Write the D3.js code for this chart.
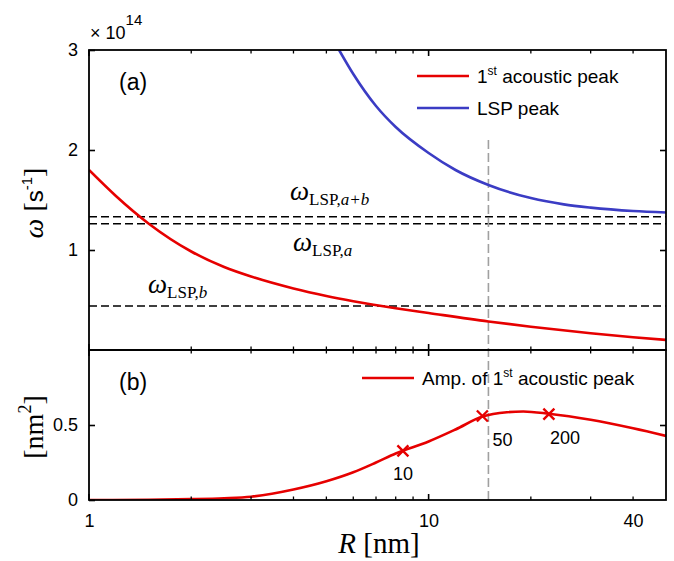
<!DOCTYPE html>
<html><head><meta charset="utf-8">
<script src="https://cdn.jsdelivr.net/npm/d3@7"></script>
<style>body{margin:0;background:#fff} svg{display:block}</style>
</head><body><svg id="c" width="674" height="561"></svg>
<script>
// ---- data ----
const acousticR     = [1, 1.2, 1.5, 2, 2.5, 3, 4, 5, 6, 8, 10, 15, 20, 30, 40, 50];
const acousticOmega = [1.80, 1.54, 1.263, 0.985, 0.83, 0.735, 0.615, 0.54, 0.488, 0.418, 0.37, 0.285, 0.233, 0.168, 0.128, 0.101];
const lspR          = [5.45, 6, 7, 8, 10, 12, 15, 20, 25, 30, 40, 50];
const lspOmega      = [3.0, 2.76, 2.44, 2.23, 1.97, 1.80, 1.65, 1.519, 1.456, 1.424, 1.39, 1.375];
const ampR          = [1, 1.5, 2, 2.5, 3, 4, 5, 6, 7, 8, 10, 12, 14.4, 17, 19, 22.6, 30, 40, 50];
const ampValue      = [0, 0.002, 0.006, 0.012, 0.022, 0.07, 0.125, 0.185, 0.25, 0.31, 0.39, 0.47, 0.556, 0.585, 0.59, 0.575, 0.535, 0.478, 0.427];
const markerR       = [8.4, 14.4, 22.6];
const markerValue   = [0.327, 0.56, 0.573];
const markerLabels  = ["10", "50", "200"];
const lspLevels     = [1.333, 1.263, 0.44];   // a+b, a, b
const guideR        = 15;
const xTickValues   = [1, 10, 40];
const xMajor        = [1, 10];
const xMinor        = [2, 3, 4, 5, 6, 7, 8, 9, 20, 30, 40];
const yTopTicks     = [1, 2, 3];
const yBotTicks     = [0, 0.5];

// ---- layout ----
const L = 89, Rr = 666, T = 50, M = 350, B = 500;
const svg = d3.select("#c");
const x  = d3.scaleLog().domain([1, 50]).range([L, Rr]);
const yA = d3.scaleLinear().domain([0, 3]).range([M, T]);
const yB = d3.scaleLinear().domain([0, 1]).range([B, M]);
const sans = "'Liberation Sans', Arial, sans-serif";
const serif = "'Liberation Serif', 'Times New Roman', serif";
const RED = "#e60000", BLUE = "#3b3cc4";

const defs = svg.append("defs");
defs.append("clipPath").attr("id", "clipA").append("rect").attr("x", L).attr("y", T).attr("width", Rr - L).attr("height", M - T);
defs.append("clipPath").attr("id", "clipB").append("rect").attr("x", L).attr("y", M).attr("width", Rr - L).attr("height", B - M);

// ---- panel (a) ----
const gA = svg.append("g").attr("clip-path", "url(#clipA)");
gA.selectAll("line.lvl").data(lspLevels).join("line")
  .attr("x1", L).attr("x2", Rr).attr("y1", d => yA(d)).attr("y2", d => yA(d))
  .attr("stroke", "#000").attr("stroke-width", 1.6).attr("stroke-dasharray", "8,4");
gA.append("line").attr("x1", x(guideR)).attr("x2", x(guideR)).attr("y1", 140).attr("y2", M)
  .attr("stroke", "#a0a0a0").attr("stroke-width", 1.6).attr("stroke-dasharray", "9,4");
const lineA = d3.line().x(d => x(d[0])).y(d => yA(d[1])).curve(d3.curveMonotoneX);
gA.append("path").datum(acousticR.map((r, i) => [r, acousticOmega[i]]))
  .attr("d", lineA).attr("fill", "none").attr("stroke", RED).attr("stroke-width", 2.6);
gA.append("path").datum(lspR.map((r, i) => [r, lspOmega[i]]))
  .attr("d", lineA).attr("fill", "none").attr("stroke", BLUE).attr("stroke-width", 2.6);

// ---- panel (b) ----
const gB = svg.append("g").attr("clip-path", "url(#clipB)");
gB.append("line").attr("x1", x(guideR)).attr("x2", x(guideR)).attr("y1", M).attr("y2", B)
  .attr("stroke", "#a0a0a0").attr("stroke-width", 1.6).attr("stroke-dasharray", "9,4").attr("stroke-dashoffset", 2);
const lineB = d3.line().x(d => x(d[0])).y(d => yB(d[1])).curve(d3.curveMonotoneX);
gB.append("path").datum(ampR.map((r, i) => [r, ampValue[i]]))
  .attr("d", lineB).attr("fill", "none").attr("stroke", RED).attr("stroke-width", 2.6);
const mk = svg.append("g");
markerR.forEach((r, i) => {
  const cx = x(r), cy = yB(markerValue[i]), s = 5.5;
  mk.append("path").attr("d", `M${cx - s},${cy - s}L${cx + s},${cy + s}M${cx - s},${cy + s}L${cx + s},${cy - s}`)
    .attr("stroke", RED).attr("stroke-width", 2.4).attr("fill", "none");
});
const mlPos = [[0, 29, "middle"], [10, 30, "start"], [1, 30, "start"]];
markerLabels.forEach((t, i) => {
  svg.append("text").attr("x", x(markerR[i]) + mlPos[i][0]).attr("y", yB(markerValue[i]) + mlPos[i][1])
    .attr("text-anchor", mlPos[i][2]).attr("font-family", sans).attr("font-size", 18).text(t);
});

// ---- axes ----
function xAxes(y0, dir) {
  svg.append("g").selectAll("line").data(xMajor).join("line")
    .attr("x1", d => x(d)).attr("x2", d => x(d)).attr("y1", y0).attr("y2", y0 - dir * 6)
    .attr("stroke", "#000").attr("stroke-width", 1.6);
  svg.append("g").selectAll("line").data(xMinor).join("line")
    .attr("x1", d => x(d)).attr("x2", d => x(d)).attr("y1", y0).attr("y2", y0 - dir * 3.5)
    .attr("stroke", "#000").attr("stroke-width", 1.3);
}
xAxes(T, -1); xAxes(M, 1); xAxes(M, -1); xAxes(B, 1);

const axBottom = d3.axisBottom(x).tickValues(xTickValues).tickFormat(d3.format("d")).tickSize(0).tickPadding(14);
const gx = svg.append("g").attr("transform", `translate(0,${B})`).call(axBottom);
gx.select(".domain").remove();
gx.selectAll("text").attr("font-family", sans).attr("font-size", 18).attr("fill", "#000");

const axLA = d3.axisLeft(yA).tickValues(yTopTicks).tickFormat(d3.format("d")).tickSizeInner(-6).tickSizeOuter(0).tickPadding(11);
const gya = svg.append("g").attr("transform", `translate(${L},0)`).call(axLA);
gya.select(".domain").remove();
gya.selectAll("line").attr("stroke-width", 1.6);
gya.selectAll("text").attr("font-family", sans).attr("font-size", 18).attr("fill", "#000");

const axLB = d3.axisLeft(yB).tickValues(yBotTicks).tickFormat(d => d === 0 ? "0" : "0.5").tickSizeInner(-6).tickSizeOuter(0).tickPadding(11);
const gyb = svg.append("g").attr("transform", `translate(${L},0)`).call(axLB);
gyb.select(".domain").remove();
gyb.selectAll("line").attr("stroke-width", 1.6);
gyb.selectAll("text").attr("font-family", sans).attr("font-size", 18).attr("fill", "#000");

const axRA = d3.axisRight(yA).tickValues([1, 2]).tickFormat("").tickSizeInner(-6).tickSizeOuter(0);
const gra = svg.append("g").attr("transform", `translate(${Rr},0)`).call(axRA);
gra.select(".domain").remove(); gra.selectAll("line").attr("stroke-width", 1.6);
const axRB = d3.axisRight(yB).tickValues([0.5]).tickFormat("").tickSizeInner(-6).tickSizeOuter(0);
const grb = svg.append("g").attr("transform", `translate(${Rr},0)`).call(axRB);
grb.select(".domain").remove(); grb.selectAll("line").attr("stroke-width", 1.6);

// frames
svg.append("rect").attr("x", L).attr("y", T).attr("width", Rr - L).attr("height", M - T).attr("fill", "none").attr("stroke", "#000").attr("stroke-width", 1.8);
svg.append("rect").attr("x", L).attr("y", M).attr("width", Rr - L).attr("height", B - M).attr("fill", "none").attr("stroke", "#000").attr("stroke-width", 1.8);

// exponent
const ex = svg.append("text").attr("x", 90).attr("y", 39).attr("font-family", sans).attr("font-size", 18);
ex.append("tspan").text("× 10");
ex.append("tspan").attr("font-size", 15).attr("dy", -14).text("14");

// panel labels
svg.append("text").attr("x", 119).attr("y", 90).attr("font-family", sans).attr("font-size", 23).text("(a)");
svg.append("text").attr("x", 119).attr("y", 390).attr("font-family", sans).attr("font-size", 23).text("(b)");

// legends
function legend(x1, x2, y, color, parts) {
  svg.append("line").attr("x1", x1).attr("x2", x2).attr("y1", y).attr("y2", y).attr("stroke", color).attr("stroke-width", 2.6);
  const t = svg.append("text").attr("x", x2 + 8).attr("y", y + 7).attr("font-family", sans).attr("font-size", 19);
  parts.forEach(p => {
    const ts = t.append("tspan").text(p.t);
    if (p.sup) ts.attr("font-size", 12).attr("dy", -8);
    if (p.after) ts.attr("dy", 8);
  });
}
legend(417, 469, 76, RED, [{t: "1"}, {t: "st", sup: true}, {t: " acoustic peak", after: true}]);
legend(417, 469, 108, BLUE, [{t: "LSP peak"}]);
legend(362, 414, 378, RED, [{t: "Amp. of 1"}, {t: "st", sup: true}, {t: " acoustic peak", after: true}]);

// omega level labels
function omegaLabel(xp, yp, sub) {
  const t = svg.append("text").attr("x", xp).attr("y", yp).attr("font-family", serif);
  t.append("tspan").attr("font-size", 27).attr("font-style", "italic").text("ω");
  const s = t.append("tspan").attr("font-size", 17).attr("dy", 5);
  s.append("tspan").text("LSP,");
  s.append("tspan").attr("font-style", "italic").text(sub);
}
omegaLabel(290, 200, "a+b");
omegaLabel(293, 251, "a");
omegaLabel(148, 293, "b");

// axis titles
const ty = svg.append("text").attr("transform", "translate(43,203) rotate(-90)").attr("text-anchor", "middle").attr("font-family", serif).attr("font-size", 28);
ty.append("tspan").attr("font-style", "italic").text("ω");
ty.append("tspan").text(" [");
ty.append("tspan").attr("font-family", sans).attr("font-size", 24).text("s");
ty.append("tspan").attr("font-family", sans).attr("font-size", 15).attr("dy", -11).text("-1");
ty.append("tspan").attr("dy", 11).text("]");

const tb = svg.append("text").attr("transform", "translate(43,427) rotate(-90)").attr("text-anchor", "middle").attr("font-family", serif).attr("font-size", 28);
tb.append("tspan").text("[nm");
tb.append("tspan").attr("font-size", 18).attr("dy", -12).text("2");
tb.append("tspan").attr("dy", 12).text("]");

const tx = svg.append("text").attr("x", 379).attr("y", 553).attr("text-anchor", "middle").attr("font-family", serif).attr("font-size", 29);
tx.append("tspan").attr("font-style", "italic").text("R");
tx.append("tspan").text(" [nm]");
</script></body></html>
